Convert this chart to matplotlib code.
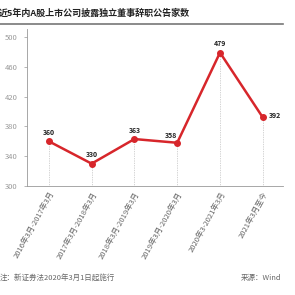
import matplotlib.pyplot as plt

plt.rcParams['font.family'] = ['Noto Sans CJK SC', 'DejaVu Sans']

# data
periods = ["2016年3月-2017年3月", "2017年3月-2018年3月", "2018年3月-2019年3月",
           "2019年3月-2020年3月", "2020年3-2021年3月", "2021年3月至今"]
counts = [360, 330, 363, 358, 479, 392]
yticks = [300, 340, 380, 420, 460, 500]

red = "#d7262b"
grey = "#999999"

fig = plt.figure(figsize=(2.95, 2.95), dpi=100)
ax = fig.add_axes([0.0915, 0.3695, 0.8675, 0.5305])

x = list(range(len(counts)))
ax.plot(x, counts, color=red, lw=1.8, marker="o", ms=4, zorder=3)
for xi, v in zip(x, counts):
    ax.vlines(xi, 300, v, colors="#aaaaaa", linestyles=(0, (1, 1.5)), lw=0.5, zorder=1)
    if xi == len(counts) - 1:
        ax.text(xi + 0.15, v + 3, str(v), fontsize=5, fontweight="bold", color="#222222",
                ha="left", va="center")
    elif xi == 3:
        ax.text(xi - 0.15, v + 5, str(v), fontsize=5, fontweight="bold", color="#222222",
                ha="center", va="bottom")
    else:
        ax.text(xi, v + 7, str(v), fontsize=5, fontweight="bold", color="#222222",
                ha="center", va="bottom")

ax.set_xlim(-0.51, 5.47)
ax.set_ylim(300, 510)
ax.set_yticks(yticks)
ax.set_yticklabels([str(t) for t in yticks], fontsize=5.5, color=grey)
ax.set_xticks(x)
ax.set_xticklabels(periods, fontsize=5.5, color="#666666", rotation=61, ha="right",
                   rotation_mode="anchor")
ax.tick_params(axis="y", length=2, width=0.5, color=grey, pad=5)
ax.tick_params(axis="x", length=0, pad=3)
for s in ["top", "right"]:
    ax.spines[s].set_visible(False)
ax.spines["left"].set_color(grey)
ax.spines["left"].set_linewidth(0.6)
ax.spines["bottom"].set_color(grey)
ax.spines["bottom"].set_linewidth(0.6)

fig.text(-0.005, 0.955, "近5年内A股上市公司披露独立董事辞职公告家数", fontsize=6.5,
         fontweight="bold", color="#222222", ha="left", va="center")
fig.add_artist(plt.Line2D([0, 0.96], [0.918, 0.918], color="#777777", lw=1.2))

fig.text(0.0, 0.057, "注：新证券法2020年3月1日起施行", fontsize=5.4, color="#666666",
         ha="left", va="center")
fig.text(0.955, 0.057, "来源：Wind", fontsize=5.4, color="#666666", ha="right", va="center")

fig.savefig("out.png", dpi=100, facecolor="white")
